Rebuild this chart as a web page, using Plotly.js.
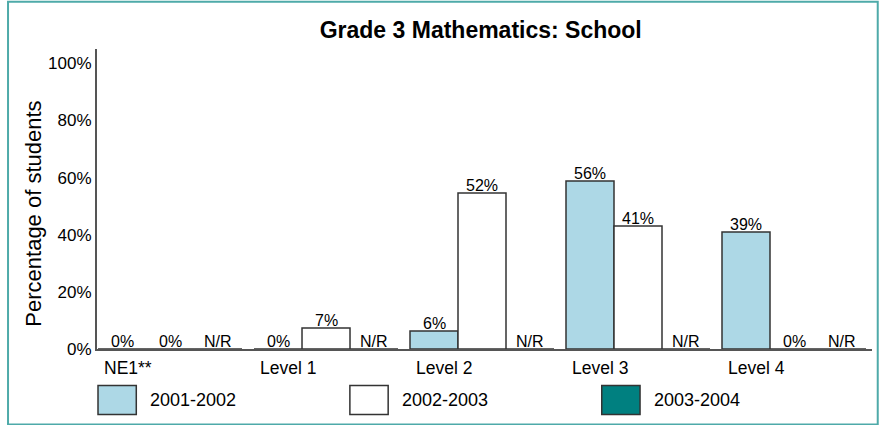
<!DOCTYPE html>
<html>
<head>
<meta charset="utf-8">
<script src="https://cdn.plot.ly/plotly-3.0.1.min.js"></script>
<style>
  html, body { margin: 0; padding: 0; background: #ffffff; }
  #chart { width: 884px; height: 425px; }
</style>
</head>
<body>
<div id="chart"></div>
<script>
// ---- data ----
const categories = ['NE1**', 'Level 1', 'Level 2', 'Level 3', 'Level 4'];
const seriesNames = ['2001-2002', '2002-2003', '2003-2004'];
const values2001 = [0, 0, 6, 56, 39];
const values2002 = [0, 7, 52, 41, 0];
const values2003 = [0, 0, 0, 0, 0];
const labels2003 = ['N/R', 'N/R', 'N/R', 'N/R', 'N/R'];
const yTickPct = [0, 20, 40, 60, 80, 100];
const chartTitle = 'Grade 3 Mathematics: School';
const yTitle = 'Percentage of students';

// ---- styling ----
const seriesColors = ['#add8e6', '#ffffff', '#008080'];
const outline = '#333333';
const axisColor = '#555555';
const frameColor = '#4eaaa9';
const FONT = 'Liberation Sans, Arial, Helvetica, sans-serif';
const tickScale = 0.952; // original chart's tick labels sit slightly below the bar scale
const barPx = 48;        // width of one bar in pixels (category 156px, gap 12px, 3 bars)

const seriesValues = [values2001, values2002, values2003];
const seriesText = [
  values2001.map(v => v + '%'),
  values2002.map(v => v + '%'),
  labels2003
];

const traces = seriesNames.map((name, i) => ({
  type: 'bar',
  name: name,
  x: categories,
  y: seriesValues[i],
  marker: { color: seriesColors[i], line: { color: outline, width: 1.5 } },
  showlegend: false,
  hoverinfo: 'x+y+name'
}));

const annotations = [];
// value labels sitting just on top of each bar
seriesNames.forEach((name, i) => {
  categories.forEach((c, j) => {
    annotations.push({
      text: seriesText[i][j], xref: 'x', yref: 'y', x: c, y: seriesValues[i][j],
      xanchor: 'center', yanchor: 'bottom', xshift: (i - 1) * barPx, yshift: -3,
      showarrow: false, font: { family: FONT, size: 16, color: '#000000' }
    });
  });
});
// y-axis title
annotations.push({
  text: yTitle, xref: 'paper', yref: 'paper', x: -0.083, y: 0.45,
  xanchor: 'center', yanchor: 'middle', textangle: -90, showarrow: false,
  font: { family: FONT, size: 22, color: '#000000' }
});
// category labels (left-aligned under the first bar of each group)
categories.forEach(c => {
  annotations.push({
    text: c, xref: 'x', yref: 'paper', x: c, y: -0.062,
    xanchor: 'left', yanchor: 'middle', xshift: -1.5 * barPx + 3.5, showarrow: false,
    font: { family: FONT, size: 17.5, color: '#000000' }
  });
});

const shapes = [];
// outer frame
shapes.push({
  type: 'rect', xref: 'paper', yref: 'paper',
  x0: -0.1148, x1: 1.0074, y0: -0.2513, y1: 1.1573,
  line: { color: frameColor, width: 2 }, fillcolor: 'rgba(0,0,0,0)', layer: 'above'
});
// custom legend
const legStep = 0.3250;
seriesNames.forEach((name, i) => {
  const x0 = 0.0013 + i * legStep;
  shapes.push({
    type: 'rect', xref: 'paper', yref: 'paper',
    x0: x0, x1: x0 + 0.0494, y0: -0.2183, y1: -0.1217,
    fillcolor: seriesColors[i], line: { color: outline, width: 1.5 }
  });
  annotations.push({
    text: name, xref: 'paper', yref: 'paper', x: x0 + 0.0649, y: -0.17,
    xanchor: 'left', yanchor: 'middle', showarrow: false,
    font: { family: FONT, size: 18, color: '#000000' }
  });
});

const layout = {
  width: 884, height: 425,
  margin: { l: 97, r: 12, t: 49, b: 76, pad: 0 },
  paper_bgcolor: '#ffffff', plot_bgcolor: '#ffffff',
  font: { family: FONT, color: '#000000' },
  title: {
    text: chartTitle, xref: 'container', yref: 'container',
    x: 0.5438, xanchor: 'center', y: 0.93, yanchor: 'middle',
    font: { family: FONT, size: 23, weight: 700, color: '#000000' }
  },
  barmode: 'group', bargap: 0.0769, bargroupgap: 0,
  xaxis: {
    type: 'category', range: [-0.468, 4.5],
    showticklabels: false, ticks: '', showgrid: false, zeroline: false,
    showline: true, linecolor: axisColor, linewidth: 2, fixedrange: true
  },
  yaxis: {
    range: [0, 100], tickmode: 'array',
    tickvals: yTickPct.map(v => v * tickScale),
    ticktext: yTickPct.map(v => v + '%'),
    tickfont: { family: FONT, size: 17, color: '#000000' },
    ticks: '', showgrid: false, zeroline: false,
    showline: true, linecolor: axisColor, linewidth: 2, fixedrange: true
  },
  annotations: annotations,
  shapes: shapes,
  showlegend: false
};

Plotly.newPlot('chart', traces, layout, { displayModeBar: false, staticPlot: true });
</script>
</body>
</html>
